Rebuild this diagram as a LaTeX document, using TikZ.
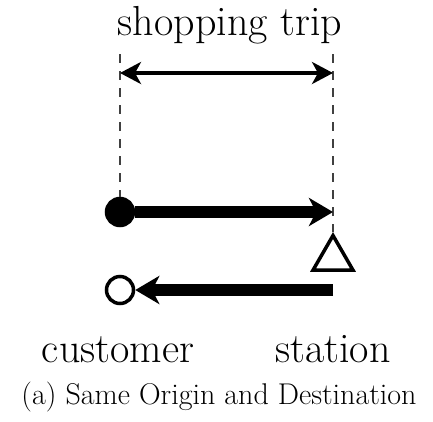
\documentclass[tikz,border=0pt]{standalone}
\usetikzlibrary{arrows.meta,shapes.geometric}
\begin{document}
\begin{tikzpicture}[x=1pt,y=-1pt,
  guide/.style={draw=black!75,line width=2pt,dash pattern=on 9pt off 8pt},
  trip/.style={line width=3.5pt,{Stealth[length=21pt,width=22pt,inset=6pt]}-{Stealth[length=21pt,width=22pt,inset=6pt]}},
  leg/.style={line width=12pt,-{Stealth[length=24pt,width=28pt,inset=7pt]}},
  endpoint/.style={circle,minimum size=27pt,inner sep=0pt,line width=3.5pt},
  stationmark/.style={regular polygon,regular polygon sides=3,draw,line width=3.5pt,inner sep=0pt,minimum size=46pt},
  label/.style={font=\fontsize{42}{50}\selectfont,inner sep=0pt,anchor=base}]
\useasboundingbox (0,0) rectangle (433,421);

% trip labels and caption
\node[label] (title) at (230,35) {shopping trip};
\node[label] (cust) at (118,362) {customer};
\node[label] (stat) at (333,362) {station};
\node[font=\fontsize{30}{36}\selectfont,inner sep=0pt,anchor=base] (cap) at (219,404) {(a) Same Origin and Destination};

% endpoints
\node[endpoint,fill=black,draw=black] (orig) at (120,212) {};
\node[endpoint,draw=black,fill=white] (dest) at (120,290) {};
\node[stationmark,anchor=north] (st) at (333,232) {};
\coordinate (ltop) at (120,54);
\coordinate (rtop) at (333,54);
\coordinate (rend) at (333,212);
\coordinate (rback) at (333,290);
\coordinate (la) at (120,73);
\coordinate (ra) at (333,73);

% vertical guides
\draw[guide] (ltop) -- (orig.north);
\draw[guide] (rtop) -- (st.north);

% trip span
\draw[trip] (la) -- (ra);

% outbound and return legs
\draw[leg] (orig.east) -- (rend);
\draw[leg] (rback) -- (dest.east);
\end{tikzpicture}
\end{document}
